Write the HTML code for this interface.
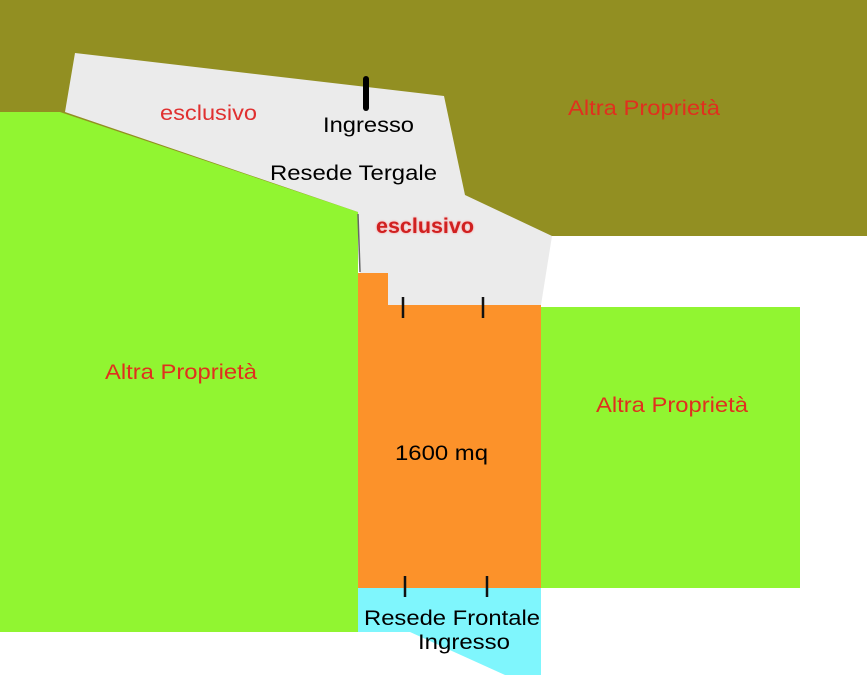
<!DOCTYPE html>
<html><head><meta charset="utf-8"><style>
html,body{margin:0;padding:0;background:#fff;}
svg{display:block;}
text{font-family:"Liberation Sans",sans-serif;font-size:21px;}
</style></head><body>
<svg width="867" height="699" viewBox="0 0 867 699" xmlns="http://www.w3.org/2000/svg">
<rect x="0" y="0" width="867" height="236" fill="#928f22"/>
<rect x="0" y="236" width="867" height="463" fill="#fff"/>
<polygon points="0,112 60,112 358,212 358,632 0,632" fill="#91f531"/>
<polygon points="75,53 444,96 465,195 552,236 541,305 388,305 388,273 360,273 358,212 65,112" fill="#ebebeb"/>
<polygon points="358,273 388,273 388,305 541,305 541,588 358,588" fill="#fc922a"/>
<rect x="541" y="307" width="259" height="281" fill="#91f531"/>
<polygon points="358,588 541,588 541,675 505,675 410,632 358,632" fill="#7ff6fd"/>
<line x1="358" y1="214" x2="360" y2="272" stroke="#666" stroke-width="1.5"/>
<g stroke="#111" stroke-width="2.5">
<line x1="403" y1="297" x2="403" y2="318"/><line x1="483" y1="297" x2="483" y2="318"/>
<line x1="405" y1="576" x2="405" y2="597"/><line x1="487" y1="576" x2="487" y2="597"/>
</g>
<line x1="366" y1="79" x2="366" y2="108" stroke="#000" stroke-width="6" stroke-linecap="round"/>
<text x="160" y="120" fill="#e03030" textLength="97" lengthAdjust="spacingAndGlyphs">esclusivo</text>
<text x="323" y="132" fill="#000" textLength="91" lengthAdjust="spacingAndGlyphs">Ingresso</text>
<text x="270" y="180" fill="#000" textLength="167" lengthAdjust="spacingAndGlyphs">Resede Tergale</text>
<text x="376" y="233" fill="#d02020" font-weight="bold" textLength="98" lengthAdjust="spacingAndGlyphs" style="text-shadow:0 0 2px #f88">esclusivo</text>
<text x="568" y="115" fill="#e0301e" textLength="152" lengthAdjust="spacingAndGlyphs">Altra Proprietà</text>
<text x="105" y="379" fill="#e0301e" textLength="152" lengthAdjust="spacingAndGlyphs">Altra Proprietà</text>
<text x="596" y="412" fill="#e0301e" textLength="152" lengthAdjust="spacingAndGlyphs">Altra Proprietà</text>
<text x="395" y="460" fill="#000" textLength="93" lengthAdjust="spacingAndGlyphs">1600 mq</text>
<text x="364" y="625" fill="#000" textLength="176" lengthAdjust="spacingAndGlyphs">Resede Frontale</text>
<text x="418" y="649" fill="#000" textLength="92" lengthAdjust="spacingAndGlyphs">Ingresso</text>
</svg>
</body></html>
